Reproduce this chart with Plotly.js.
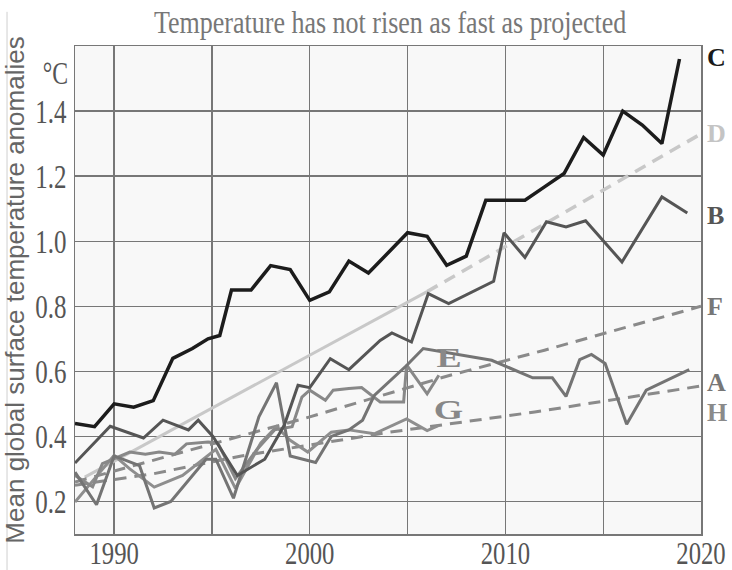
<!DOCTYPE html>
<html><head><meta charset="utf-8">
<script src="https://cdn.plot.ly/plotly-3.0.1.min.js"></script>
<style>body{margin:0;background:#fff}</style>
</head><body><div id="chart" style="width:732px;height:570px"></div>
<script>
// Tick labels
const xTickVals = [1990,1995,2000,2005,2010,2015,2020];
const xTickText = ['1990','','2000','','2010','','2020'];
const yTickVals = [0.2,0.4,0.6,0.8,1.0,1.2,1.4];
const yTickText = ['0.2','0.4','0.6','0.8','1.0','1.2','1.4'];

// Series C (black)
const cX = [1988,1989,1990,1991,1992,1993,1994,1994.8,1995.4,1996,1997,1998,1999,2000,2001,2002,2003,2004,2005,2006,2007,2008,2009,2010,2011,2012,2013,2014,2015,2016,2017,2018,2018.9];
const cY = [0.44,0.43,0.50,0.49,0.51,0.64,0.67,0.70,0.71,0.85,0.85,0.925,0.913,0.818,0.844,0.939,0.902,0.963,1.026,1.015,0.926,0.954,1.126,1.126,1.126,1.167,1.208,1.319,1.265,1.40,1.357,1.30,1.56];

// Series B (dark grey)
const bX = [1988,1989.8,1991.5,1992.5,1993.8,1994.3,1995.05,1995.9,1996.3,1997.7,1998.7,1999.4,2000,2001.05,2002,2003.6,2004.2,2005.2,2006.06,2007.1,2009.4,2009.93,2011,2012.1,2013.1,2014.1,2015.96,2018,2019.3];
const bY = [0.318,0.431,0.395,0.45,0.42,0.45,0.40,0.316,0.28,0.33,0.435,0.557,0.55,0.639,0.605,0.695,0.718,0.69,0.839,0.808,0.877,1.026,0.95,1.06,1.044,1.063,0.936,1.136,1.087];

// Series A (grey, full period)
const aX = [1988,1989.1,1990,1991.3,1992.05,1992.9,1994.7,1995.2,1996.1,1997.4,1998.3,1999.0,2000.3,2001.1,2002,2002.7,2003.3,2004.95,2005.8,2007.35,2009.3,2011.4,2012.4,2013.1,2013.8,2014.4,2015.1,2016.2,2017.2,2019.4];
const aY = [0.29,0.19,0.34,0.31,0.18,0.20,0.33,0.33,0.21,0.46,0.565,0.34,0.32,0.40,0.42,0.45,0.526,0.618,0.67,0.654,0.634,0.58,0.58,0.523,0.636,0.652,0.624,0.437,0.542,0.605];

// Series E (grey, observed part)
const eX = [1988,1988.9,1989.4,1990.8,1991.6,1992.3,1993.1,1993.7,1994.8,1995.3,1996.2,1997.3,1998.2,1999.1,1999.6,2000,2000.8,2001.2,2002,2002.65,2003.6,2004.8,2004.95,2006,2006.6];
const eY = [0.28,0.245,0.316,0.352,0.345,0.352,0.345,0.377,0.383,0.38,0.27,0.36,0.42,0.43,0.521,0.542,0.511,0.542,0.547,0.55,0.506,0.506,0.62,0.531,0.588];

// Series G (grey, observed part)
const gX = [1988,1990,1990.8,1992.05,1993.5,1995.2,1996.2,1997.5,1998.3,1999,1999.9,2001.1,2002,2003.3,2004.95,2006,2006.6];
const gY = [0.198,0.342,0.30,0.244,0.28,0.36,0.24,0.38,0.43,0.388,0.352,0.413,0.42,0.408,0.454,0.418,0.434];

// Series D (light grey): observed trend then projection
const dSolidX = [1988.5,2006];
const dSolidY = [0.275,0.845];
const dDashX = [2006,2020];
const dDashY = [0.845,1.33];

// Series F and H (dashed projections)
const fX = [1988,1994,2000,2007,2012,2020];
const fY = [0.26,0.36,0.46,0.585,0.665,0.80];
const hX = [1988,1992,1996.5,2000.7,2004.1,2011.5,2020];
const hY = [0.25,0.285,0.34,0.38,0.413,0.475,0.555];

const serif = "'Liberation Serif', 'Times New Roman', serif";

function ln(x,y,color,width,dash){
  return {x:x,y:y,type:'scatter',mode:'lines',line:{color:color,width:width,dash:dash||'solid'},hoverinfo:'skip',showlegend:false};
}

const data = [
  ln(dSolidX,dSolidY,'#c8c8c8',3),
  ln(dDashX,dDashY,'#c8c8c8',3.5,'12px,8px'),
  ln(hX,hY,'#8a8a8a',3,'12px,8px'),
  ln(fX,fY,'#8a8a8a',3,'12px,8px'),
  ln(gX,gY,'#8e8e8e',3),
  ln(eX,eY,'#888888',3),
  ln(aX,aY,'#747474',3),
  ln(bX,bY,'#555555',3),
  ln(cX,cY,'#1c1c1c',3.5)
];

function rlab(txt,y,color){
  return {xref:'paper',yref:'y',x:1,y:y,xanchor:'left',xshift:4,text:'<b>'+txt+'</b>',showarrow:false,font:{family:serif,size:26,color:color}};
}

const layout = {
  width:732,height:570,
  margin:{l:75,r:31,t:46,b:36},
  paper_bgcolor:'#ffffff',
  plot_bgcolor:'#f8f8f8',
  title:{text:'Temperature has not risen as fast as projected',font:{family:serif,size:26,color:'#777'},x:0.533,xanchor:'center',y:0.962,yanchor:'middle'},
  xaxis:{range:[1988,2020],tickvals:xTickVals,ticktext:xTickText,showgrid:true,gridcolor:'#777',gridwidth:1.3,
    showline:true,linecolor:'#777',linewidth:1.5,mirror:true,zeroline:false,ticks:'',
    tickfont:{family:serif,size:26,color:'#555'}},
  yaxis:{range:[0.1,1.6],tickvals:yTickVals,ticktext:yTickText,showgrid:true,gridcolor:'#777',gridwidth:1.3,
    showline:true,linecolor:'#777',linewidth:1.5,mirror:true,zeroline:false,ticks:'',ticklabelstandoff:2,
    tickfont:{family:serif,size:25,color:'#555'},
    title:{text:'Mean global surface temperature anomalies',font:{family:"'Liberation Sans', Arial, sans-serif",size:26,color:'#666'},standoff:3}},
  annotations:[
    rlab('C',1.566,'#1a1a1a'),
    rlab('D',1.332,'#c4c4c4'),
    rlab('B',1.08,'#555555'),
    rlab('F',0.80,'#777777'),
    rlab('A',0.565,'#777777'),
    rlab('H',0.475,'#8a8a8a'),
    {xref:'x',yref:'y',x:2007.1,y:0.64,text:'<b>E</b>',showarrow:false,font:{family:serif,size:27,color:'#888'}},
    {xref:'x',yref:'y',x:2007.1,y:0.48,text:'<b>G</b>',showarrow:false,font:{family:serif,size:27,color:'#888'}},
    {xref:'paper',yref:'y',x:0,y:1.52,xanchor:'right',xshift:-4,text:'°C',showarrow:false,font:{family:serif,size:25,color:'#555'}}
  ],
  shapes:[
    {type:'line',xref:'paper',yref:'paper',x0:-0.1086,x1:-0.1086,y0:-0.08,y1:1.07,line:{color:'#cfcfcf',width:1}}
  ]
};

// Stretch text about its own centre (plus optional shift) to mimic the tall, narrow lettering
function stretch(nodes,sx,sy,dy){
  nodes.forEach(function(t){
    const b = t.getBBox();
    const cx = b.x + b.width/2, cy = b.y + b.height/2;
    const tr = t.getAttribute('transform') || '';
    t.setAttribute('transform', tr + ' translate('+cx+','+(cy+(dy||0))+') scale('+sx+','+sy+') translate('+(-cx)+','+(-cy)+')');
  });
}

Plotly.newPlot('chart',data,layout,{displayModeBar:false,staticPlot:true}).then(function(gd){
  stretch(gd.querySelectorAll('.xtick text'),0.95,1.2,-4);
  stretch(gd.querySelectorAll('.ytick text'),1,1.35);
  stretch(gd.querySelectorAll('.gtitle'),1,1.25);
  const ann = gd.querySelectorAll('.annotation-text');
  if (ann.length >= 9) {
    stretch([ann[6],ann[7]],1.4,1);
    stretch([ann[8]],0.95,1.3);
  }
});
</script></body></html>
